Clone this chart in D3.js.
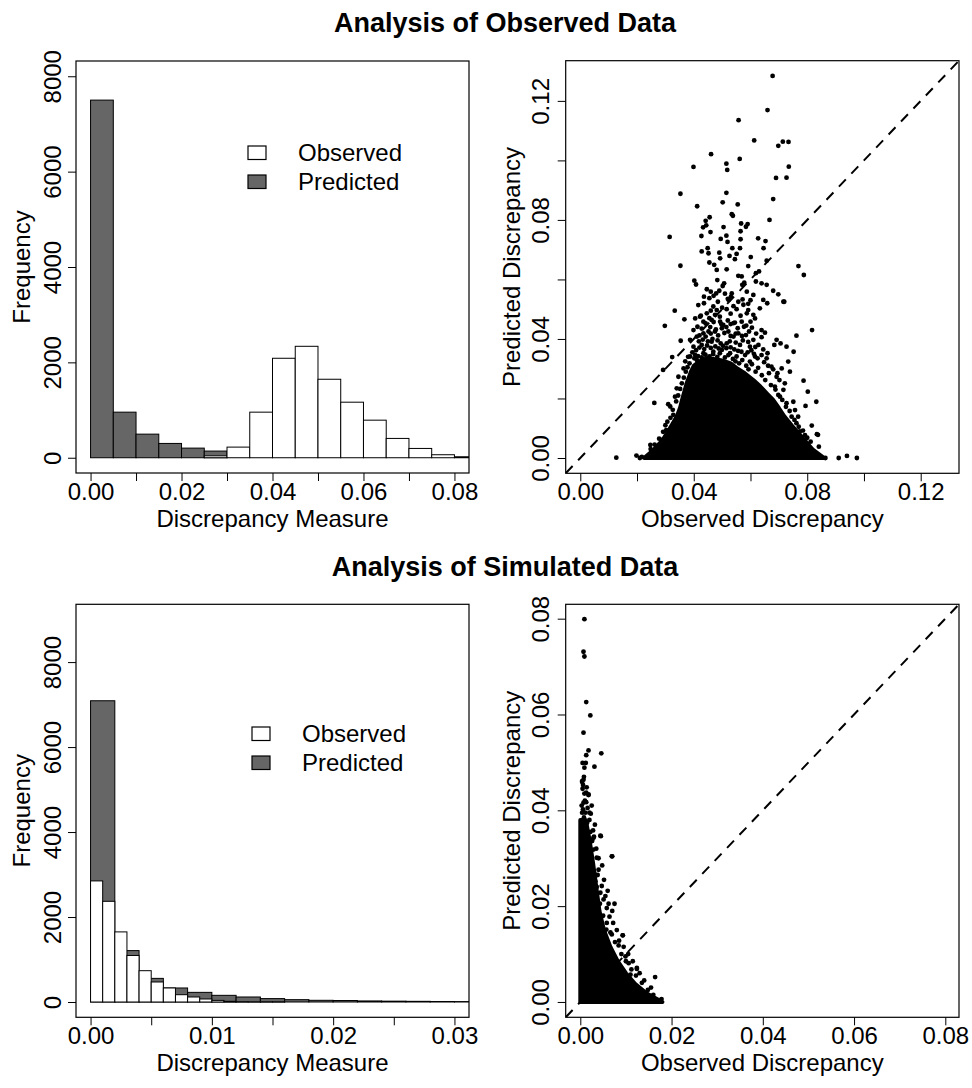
<!DOCTYPE html>
<html>
<head>
<meta charset="utf-8">
<script src="https://cdn.jsdelivr.net/npm/d3@7"></script>
<style>
body{margin:0;background:#fff}
svg{display:block;font-family:"Liberation Sans",Arial,Helvetica,sans-serif}
</style>
</head>
<body>
<div id="graphique"></div>
<script>
// ---- data ----
const titles=["Analysis of Observed Data","Analysis of Simulated Data"];
const seriesNames=["Observed","Predicted"];

// top-left histogram, bins of 0.005 starting at 0
const obsBinTop=0.005, predBinTop=0.005;
const observedTop=[0,0,0,0,0,40,223,956,2086,2337,1646,1165,788,405,195,63,21];
const predictedTop=[7500,956,495,300,202,140];

// bottom-left histogram, observed bins 0.001, predicted bins 0.002
const obsBinBot=0.001, predBinBot=0.002;
const observedBot=[2850,2370,1650,1095,737,471,330,172,118,71,38,16,8,4,2,1];
const predictedBot=[7090,1210,556,330,227,157,118,80,55,40,35,25,20,16,12,10];

const freqTicks=[0,2000,4000,6000,8000];
const xTicksTopHist=[0,0.01,0.02,0.03,0.04,0.05,0.06,0.07,0.08];
const xLabelsTopHist=[0,0.02,0.04,0.06,0.08];
const xTicksBotHist=[0,0.005,0.01,0.015,0.02,0.025,0.03];
const xLabelsBotHist=[0,0.01,0.02,0.03];
const ticksTopScatter=[0,0.02,0.04,0.06,0.08,0.10,0.12];
const labelsTopScatter=[0,0.04,0.08,0.12];
const ticksBotScatter=[0,0.02,0.04,0.06,0.08];

// top-right scatter: solid black core (outline) + individual points
const coreTop=[[0.0225,0],[0.0258,0.0027],[0.0290,0.0060],[0.0305,0.0083],[0.0322,0.0110],
  [0.0340,0.0139],[0.0352,0.0170],[0.0360,0.0200],[0.0375,0.0251],[0.0390,0.0290],[0.0400,0.0310],
  [0.0420,0.0325],[0.0445,0.0335],[0.0470,0.0333],[0.0500,0.0328],[0.0530,0.0318],[0.0555,0.0300],
  [0.0580,0.0285],[0.0610,0.0262],[0.0635,0.0240],[0.0660,0.0215],[0.0680,0.0195],[0.0700,0.0168],
  [0.0720,0.0139],[0.0745,0.0110],[0.0770,0.0083],[0.0795,0.0055],[0.0821,0.0027],[0.0860,0]];
const pointsTop=[
  [0.0678,0.1284],[0.0660,0.1169],[0.0558,0.1135],[0.0613,0.1067],[0.0698,0.1049],[0.0714,0.1063],
  [0.0734,0.1062],[0.0461,0.1021],[0.0399,0.0978],[0.0515,0.0989],[0.0518,0.0968],[0.0562,0.1005],
  [0.0735,0.0979],[0.0690,0.0941],[0.0727,0.0942],[0.0353,0.0888],[0.0515,0.0891],[0.0412,0.0846],
  [0.0502,0.0859],[0.0555,0.0852],[0.0680,0.0870],[0.0534,0.0819],[0.0538,0.0814],[0.0456,0.0809],
  [0.0442,0.0797],[0.0444,0.0782],[0.0433,0.0775],[0.0459,0.0759],[0.0427,0.0746],[0.0505,0.0776],
  [0.0567,0.0788],[0.0590,0.0786],[0.0584,0.0777],[0.0565,0.0762],[0.0667,0.0800],[0.0315,0.0743],
  [0.0515,0.0747],[0.0495,0.0736],[0.0519,0.0726],[0.0565,0.0735],[0.0627,0.0738],[0.0653,0.0729],
  [0.0449,0.0705],[0.0536,0.0705],[0.0563,0.0705],[0.0646,0.0705],
  [0.0353,0.0646],[0.0402,0.0596],[0.0408,0.0583],[0.0769,0.0645],[0.0788,0.0615],[0.0333,0.0495],
  [0.0367,0.0466],[0.0298,0.0444],[0.0817,0.0430],[0.0762,0.0411],[0.0354,0.0394],[0.0324,0.0339],
  [0.0292,0.0296],[0.0261,0.0185],[0.0310,0.0181],[0.0247,0.0044],[0.0127,0.0001],[0.0198,0.0008],
  [0.0210,0],[0.0832,0.0189],[0.0787,0.0260],[0.0802,0.0223],[0.0794,0.0175],[0.0816,0.0109],
  [0.0834,0.0080],[0.0752,0.0357],[0.0719,0.0525],[0.0911,0],[0.0940,0.0007],[0.0975,0],[0.0864,0],
  [0.0838,0.0078],[0.0841,0.0038],
  [0.0428,0.0694],[0.0452,0.0688],[0.0490,0.0690],[0.0493,0.0671],[0.0526,0.0679],[0.0551,0.0686],
  [0.0545,0.0668],[0.0601,0.0675],[0.0657,0.0663],[0.0455,0.0657],[0.0472,0.0649],[0.0481,0.0632],
  [0.0516,0.0634],[0.0557,0.0612],[0.0569,0.0610],[0.0619,0.0621],[0.0630,0.0627],[0.0592,0.0645],
  [0.0483,0.0598],[0.0507,0.0587],[0.0502,0.0578],[0.0571,0.0582],[0.0578,0.0589],[0.0619,0.0593],
  [0.0639,0.0587],[0.0657,0.0582],[0.0446,0.0567],[0.0460,0.0559],[0.0479,0.0553],[0.0490,0.0562],
  [0.0534,0.0553],[0.0587,0.0559],[0.0610,0.0548],[0.0680,0.0562],[0.0698,0.0550],[0.0436,0.0542],
  [0.0455,0.0537],[0.0523,0.0531],[0.0531,0.0542],[0.0557,0.0525],[0.0572,0.0533],[0.0592,0.0518],
  [0.0645,0.0531],[0.0659,0.0520],[0.0716,0.0525],[0.0416,0.0514],[0.0436,0.0520],[0.0469,0.0509],
  [0.0481,0.0497],[0.0516,0.0500],[0.0551,0.0500],[0.0592,0.0497],[0.0633,0.0503],[0.0446,0.0486],
  [0.0475,0.0481],[0.0610,0.0481],[0.0587,0.0486],[0.0405,0.0469],[0.0422,0.0475],[0.0413,0.0441],
  [0.0434,0.0458],[0.0463,0.0464],[0.0493,0.0458],[0.0504,0.0447],[0.0540,0.0453],[0.0569,0.0458],
  [0.0577,0.0441],[0.0616,0.0469],[0.0639,0.0430],[0.0399,0.0430],[0.0411,0.0408],[0.0434,0.0419],
  [0.0452,0.0425],[0.0475,0.0425],[0.0499,0.0436],[0.0522,0.0425],[0.0540,0.0408],[0.0557,0.0419],
  [0.0584,0.0413],[0.0610,0.0397],[0.0639,0.0406],[0.0651,0.0421],[0.0692,0.0397],[0.0706,0.0385],
  [0.0727,0.0374],[0.0684,0.0380],[0.0387,0.0397],[0.0399,0.0374],[0.0428,0.0380],[0.0463,0.0391],
  [0.0516,0.0385],[0.0563,0.0380],[0.0598,0.0374],[0.0628,0.0380],[0.0387,0.0341],[0.0405,0.0346],
  [0.0411,0.0329],[0.0434,0.0352],[0.0469,0.0357],[0.0499,0.0363],[0.0528,0.0352],[0.0551,0.0341],
  [0.0581,0.0346],[0.0598,0.0324],[0.0616,0.0341],[0.0639,0.0346],[0.0657,0.0335],[0.0674,0.0307],
  [0.0710,0.0301],[0.0733,0.0324],[0.0739,0.0290],[0.0364,0.0301],[0.0346,0.0273],[0.0358,0.0251],
  [0.0692,0.0273],[0.0721,0.0251],[0.0704,0.0206],[0.0727,0.0184],[0.0751,0.0189],[0.0757,0.0161],
  [0.0745,0.0139],[0.0768,0.0139],[0.0716,0.0229],[0.0686,0.0240],[0.0340,0.0234],[0.0334,0.0206],
  [0.0317,0.0173],[0.0328,0.0145],[0.0307,0.0122],[0.0303,0.0094],[0.0323,0.0089],[0.0287,0.0061],
  [0.0282,0.0027],[0.0267,0.0016],[0.0258,0.0004],[0.0235,0.0002],[0.0217,0.0004],[0.0762,0.0117],
  [0.0774,0.0089],[0.0792,0.0077],[0.0780,0.0049],[0.0809,0.0032],[0.0821,0.0021],[0.0798,0.0016],
  [0.0751,0.0038],
  // dense halo just above the solid core
  [0.0402,0.0335],[0.0415,0.0342],[0.0428,0.0338],[0.0441,0.0347],[0.0455,0.0341],[0.0468,0.0349],
  [0.0483,0.0340],[0.0492,0.0352],[0.0510,0.0338],[0.0522,0.0346],[0.0538,0.0333],[0.0547,0.0325],
  [0.0560,0.0318],[0.0571,0.0329],[0.0585,0.0310],[0.0593,0.0298],[0.0605,0.0315],[0.0618,0.0290],
  [0.0627,0.0303],[0.0640,0.0278],[0.0652,0.0262],[0.0665,0.0285],[0.0672,0.0245],[0.0688,0.0230],
  [0.0698,0.0212],[0.0712,0.0195],[0.0725,0.0172],[0.0738,0.0158],[0.0755,0.0128],[0.0770,0.0105],
  [0.0785,0.0092],[0.0800,0.0068],[0.0812,0.0055],[0.0372,0.0290],[0.0365,0.0270],[0.0352,0.0232],
  [0.0345,0.0210],[0.0338,0.0190],[0.0326,0.0162],[0.0318,0.0135],[0.0300,0.0110],[0.0292,0.0088],
  [0.0278,0.0065],[0.0262,0.0045],[0.0248,0.0030],[0.0385,0.0318],[0.0378,0.0305],
  [0.0408,0.0362],[0.0420,0.0371],[0.0437,0.0366],[0.0447,0.0378],[0.0460,0.0370],[0.0476,0.0375],
  [0.0488,0.0368],[0.0503,0.0377],[0.0515,0.0369],[0.0530,0.0372],[0.0543,0.0365],[0.0556,0.0360],
  [0.0568,0.0357],[0.0590,0.0355],[0.0603,0.0362],[0.0612,0.0350],[0.0625,0.0335],[0.0648,0.0322],
  [0.0662,0.0310],[0.0680,0.0298],[0.0695,0.0285],[0.0702,0.0262],[0.0418,0.0392],[0.0432,0.0398],
  [0.0450,0.0392],[0.0466,0.0400],[0.0484,0.0395],[0.0495,0.0385],[0.0527,0.0392],[0.0548,0.0388],
  [0.0573,0.0395],[0.0592,0.0390],[0.0617,0.0373],[0.0645,0.0365],[0.0660,0.0352],[0.0395,0.0355],
  [0.0380,0.0340],[0.0370,0.0325],
  [0.0420,0.0412],[0.0442,0.0408],[0.0460,0.0418],[0.0486,0.0412],[0.0508,0.0420],[0.0530,0.0410],
  [0.0548,0.0418],[0.0570,0.0410],[0.0595,0.0425],[0.0620,0.0418],[0.0428,0.0435],[0.0458,0.0440],
  [0.0478,0.0432],[0.0515,0.0440],[0.0530,0.0450],[0.0555,0.0436],[0.0585,0.0445],[0.0605,0.0438],
  [0.0442,0.0452],[0.0470,0.0457],[0.0497,0.0450],[0.0520,0.0462],[0.0545,0.0455],[0.0600,0.0458],
  [0.0425,0.0478],[0.0455,0.0470],[0.0492,0.0475],[0.0530,0.0485],[0.0565,0.0478],[0.0460,0.0495],
  [0.0500,0.0505],[0.0540,0.0510],[0.0575,0.0515],[0.0485,0.0525],[0.0520,0.0535],[0.0600,0.0530],
  [0.0470,0.0545],[0.0510,0.0552]];

// bottom-right scatter
const coreBot=[[0,0],[0,0.038],[0.0012,0.038],[0.0020,0.034],[0.0028,0.029],[0.0035,0.024],
  [0.0042,0.019],[0.0052,0.015],[0.0066,0.0115],[0.0082,0.0085],[0.0100,0.006],[0.0120,0.0038],
  [0.0145,0.0018],[0.0170,0.0005],[0.0180,0]];
const pointsBot=[
  [0.0009,0.0799],[0.0007,0.0731],[0.0009,0.0721],[0.0013,0.0626],[0.0022,0.0598],[0.0007,0.0562],
  [0.0018,0.0525],[0.0013,0.0515],[0.0046,0.0519],[0.0005,0.0499],[0.0012,0.0499],[0.0009,0.0489],
  [0.0031,0.0491],[0.0007,0.0464],[0.0004,0.0459],[0.0006,0.0453],[0.0009,0.0435],[0.0018,0.0432],
  [0.0045,0.0346],[0.0070,0.0304],[0.0075,0.0205],[0.0093,0.0139],[0.0124,0.0069],[0.0164,0.0052],
  [0.0172,0.0003],[0.0023,0.0393],[0.0044,0.0347],[0.0069,0.0304],[0.0047,0.0242],[0.0055,0.0221],
  [0.0051,0.0214],[0.0058,0.0196],[0.0064,0.0178],[0.0057,0.0151],[0.0069,0.0141],[0.0093,0.0139],
  [0.0084,0.0118],[0.0099,0.0095],[0.0106,0.0081],[0.0124,0.0071],[0.0110,0.0057],[0.0146,0.0006],
  [0.0131,0.0012],[0.0007,0.0416],[0.0004,0.0395],[0.0011,0.0374],[0.0026,0.0336],[0.0029,0.0318],
  [0.0036,0.0301],[0.0040,0.0276],[0.0033,0.0252],[0.0044,0.0228],[0.0004,0.0461],[0.0006,0.0402],
  [0.0011,0.0395],[0.0015,0.0374],[0.0004,0.0363],[0.0013,0.0437],[0.0018,0.0433],[0.0026,0.0339],
  [0.0029,0.0343],[0.0013,0.0417],[0.0005,0.0445],[0.0010,0.0420],[0.0003,0.0410],[0.0016,0.0405],
  [0.0008,0.0385],[0.0020,0.0380],[0.0012,0.0362],[0.0022,0.0355],[0.0030,0.0345],[0.0019,0.0332],
  [0.0035,0.0320],
  [0.0040,0.0300],[0.0048,0.0285],[0.0038,0.0265],[0.0052,0.0255],[0.0060,0.0232],[0.0062,0.0205],
  [0.0070,0.0190],[0.0072,0.0165],[0.0080,0.0150],[0.0085,0.0128],[0.0095,0.0115],[0.0105,0.0100],
  [0.0115,0.0085],[0.0130,0.0060],[0.0140,0.0045],[0.0155,0.0030],[0.0160,0.0015],[0.0178,0.0006],
  [0.0025,0.0410],[0.0020,0.0395],[0.0032,0.0370],[0.0028,0.0358],[0.0008,0.0470],[0.0014,0.0448],
  [0.0050,0.0180],[0.0058,0.0165],[0.0066,0.0145],[0.0076,0.0125],[0.0090,0.0100],[0.0100,0.0085],
  [0.0112,0.0068],[0.0122,0.0055],[0.0135,0.0040],[0.0148,0.0025],[0.0043,0.0205],[0.0036,0.0240],
  [0.0030,0.0270],[0.0024,0.0300]];

// ---- drawing ----
const W=972, H=1088;
const fs=24;
const darkFill="#666666";
const svg=d3.select("#graphique").append("svg").attr("width",W).attr("height",H);
svg.append("rect").attr("width",W).attr("height",H).attr("fill","white");

function near(a,b){return Math.abs(a-b)<1e-9}

function panel(box,id){
    svg.append("clipPath").attr("id",id).append("rect")
        .attr("x",box.x0).attr("y",box.y0).attr("width",box.x1-box.x0).attr("height",box.y1-box.y0);
    return svg.append("g").attr("clip-path","url(#"+id+")");
}

function axes(box,x,y,o){
    const xa=d3.axisBottom(x).tickValues(o.xTicks).tickSize(8)
        .tickFormat(d=>o.xLabels.some(v=>near(v,d))?d3.format(o.xFmt)(d):"");
    const gx=svg.append("g").attr("transform","translate(0,"+box.y1+")").call(xa);
    gx.select(".domain").remove();
    gx.selectAll("line").attr("stroke","black");
    gx.selectAll("text").attr("y",27).attr("dy",null).attr("font-size",fs).attr("fill","black")
        .attr("font-family","Liberation Sans, Arial, sans-serif");
    const ya=d3.axisLeft(y).tickValues(o.yTicks).tickSize(8)
        .tickFormat(d=>o.yLabels.some(v=>near(v,d))?d3.format(o.yFmt)(d):"");
    const gy=svg.append("g").attr("transform","translate("+box.x0+",0)").call(ya);
    gy.select(".domain").remove();
    gy.selectAll("line").attr("stroke","black");
    gy.selectAll("text").attr("transform","rotate(-90)").attr("x",0).attr("y",-o.yLabOff)
        .attr("dy",null).attr("text-anchor","middle").attr("font-size",fs).attr("fill","black")
        .attr("font-family","Liberation Sans, Arial, sans-serif");
    svg.append("text").attr("x",(box.x0+box.x1)/2).attr("y",box.y1+54)
        .attr("text-anchor","middle").attr("font-size",fs).text(o.xTitle);
    svg.append("text").attr("transform","translate("+(box.x0-46)+","+(box.y0+box.y1)/2+") rotate(-90)")
        .attr("text-anchor","middle").attr("font-size",fs).text(o.yTitle);
    svg.append("rect").attr("x",box.x0).attr("y",box.y0)
        .attr("width",box.x1-box.x0).attr("height",box.y1-box.y0)
        .attr("fill","none").attr("stroke","black").attr("stroke-width",1.2);
}

function histogram(o){
    const box=o.box;
    const x=d3.scaleLinear().domain(o.xDomain).range([box.x0,box.x1]);
    const y=d3.scaleLinear().domain(o.yDomain).range([box.y1,box.y0]);
    const g=panel(box,o.id);
    const bars=(vals,bw,fill,cls)=>g.selectAll("rect."+cls).data(vals).enter().append("rect")
        .attr("class",cls)
        .attr("x",(d,i)=>x(i*bw)).attr("width",(d,i)=>x((i+1)*bw)-x(i*bw))
        .attr("y",d=>y(d)).attr("height",d=>y(0)-y(d))
        .attr("fill",fill).attr("stroke","black").attr("stroke-width",1);
    bars(o.predicted,o.predBin,darkFill,"pred");
    bars(o.observed,o.obsBin,"white","obs");
    axes(box,x,y,{xTicks:o.xTicks,xLabels:o.xLabels,xFmt:".2f",yTicks:freqTicks,yLabels:freqTicks,
        yFmt:"d",yLabOff:15,xTitle:"Discrepancy Measure",yTitle:"Frequency"});
    // legend
    const lg=svg.append("g").attr("transform","translate("+o.legend[0]+","+o.legend[1]+")");
    [["white",seriesNames[0]],[darkFill,seriesNames[1]]].forEach((s,i)=>{
        lg.append("rect").attr("x",0).attr("y",i*29).attr("width",18).attr("height",13.5)
            .attr("fill",s[0]).attr("stroke","black").attr("stroke-width",1.2);
        lg.append("text").attr("x",50).attr("y",i*29+14.5).attr("font-size",fs).text(s[1]);
    });
}

function scatter(o){
    const box=o.box;
    const x=d3.scaleLinear().domain(o.domain).range([box.x0,box.x1]);
    const y=d3.scaleLinear().domain(o.domain).range([box.y1,box.y0]);
    const g=panel(box,o.id);
    const line=d3.line().x(d=>x(d[0])).y(d=>y(d[1]));
    g.append("path").attr("d",line(o.core)+"Z").attr("fill","black")
        .attr("stroke","black").attr("stroke-width",4).attr("stroke-linejoin","round");
    g.selectAll("circle").data(o.points).enter().append("circle")
        .attr("cx",d=>x(d[0])).attr("cy",d=>y(d[1])).attr("r",2.4).attr("fill","black");
    g.append("line").attr("x1",x(o.domain[0])).attr("y1",y(o.domain[0]))
        .attr("x2",x(o.domain[1])).attr("y2",y(o.domain[1]))
        .attr("stroke","black").attr("stroke-width",2).attr("stroke-dasharray","10,8");
    axes(box,x,y,{xTicks:o.ticks,xLabels:o.labels,xFmt:".2f",yTicks:o.ticks,yLabels:o.labels,
        yFmt:".2f",yLabOff:17,xTitle:"Observed Discrepancy",yTitle:"Predicted Discrepancy"});
}

const boxTL={x0:76,x1:469,y0:61,y1:473};
const boxTR={x0:565.7,x1:959,y0:60.7,y1:473.3};
const boxBL={x0:76,x1:469,y0:604.3,y1:1017.3};
const boxBR={x0:565.7,x1:959,y0:604.3,y1:1017.3};

histogram({id:"cTL",box:boxTL,xDomain:[-0.0032,0.0832],yDomain:[-320,8320],
    observed:observedTop,predicted:predictedTop,obsBin:obsBinTop,predBin:predBinTop,
    xTicks:xTicksTopHist,xLabels:xLabelsTopHist,legend:[248,146]});
histogram({id:"cBL",box:boxBL,xDomain:[-0.0012,0.0312],yDomain:[-360,9360],
    observed:observedBot,predicted:predictedBot,obsBin:obsBinBot,predBin:predBinBot,
    xTicks:xTicksBotHist,xLabels:xLabelsBotHist,legend:[252,727]});
scatter({id:"cTR",box:boxTR,domain:[-0.00514,0.1335],core:coreTop,points:pointsTop,
    ticks:ticksTopScatter,labels:labelsTopScatter});
scatter({id:"cBR",box:boxBR,domain:[-0.0032,0.0830],core:coreBot,points:pointsBot,
    ticks:ticksBotScatter,labels:ticksBotScatter});

svg.append("text").attr("x",505).attr("y",32).attr("text-anchor","middle")
    .attr("font-size",27).attr("font-weight","bold").text(titles[0]);
svg.append("text").attr("x",505).attr("y",576).attr("text-anchor","middle")
    .attr("font-size",27).attr("font-weight","bold").text(titles[1]);
</script>
</body>
</html>
